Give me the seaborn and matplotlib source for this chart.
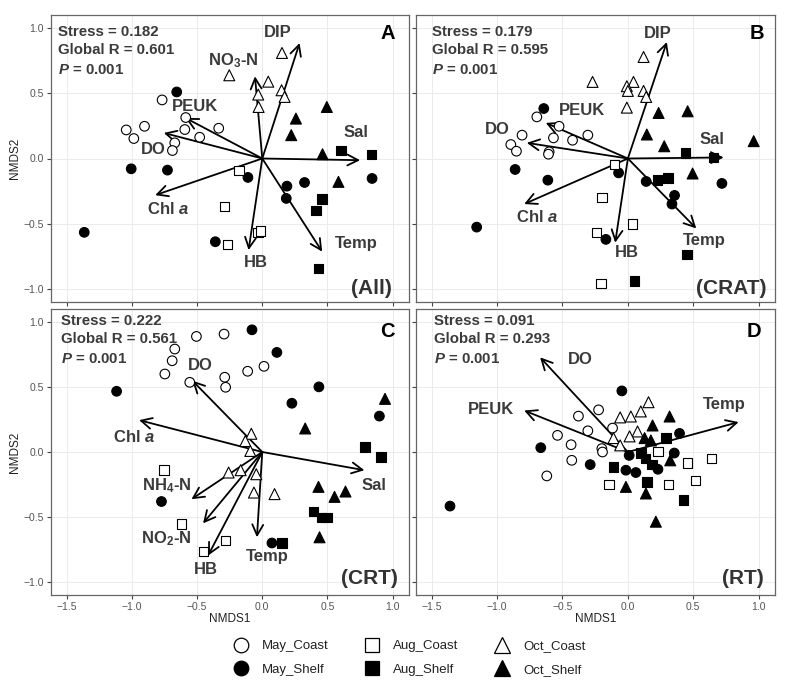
import matplotlib
matplotlib.use("Agg")
import matplotlib.pyplot as plt
import seaborn as sns
import pandas as pd
from matplotlib.lines import Line2D

# ---------------- data ----------------
groups = ["May_Coast", "May_Shelf", "Aug_Coast", "Aug_Shelf", "Oct_Coast", "Oct_Shelf"]

# Panel A (All)
A_x = [-0.768, -1.043, -0.985, -0.903, -0.587, -0.594, -0.480, -0.334, -0.671, -0.689,
       -0.656, -1.005, -0.727, -1.365, -0.110, 0.189, 0.324, 0.184, -0.360, 0.842,
       -0.179, -0.291, -0.268, -0.033, -0.015,
       0.605, 0.839, 0.459, 0.411, 0.429,
       0.151, -0.253, 0.046, -0.031, 0.148, 0.171, -0.028,
       0.495, 0.258, 0.222, 0.462, 0.584]
A_y = [0.449, 0.219, 0.153, 0.247, 0.314, 0.222, 0.163, 0.232, 0.120, 0.061,
       0.510, -0.079, -0.089, -0.566, -0.145, -0.212, -0.184, -0.306, -0.638, -0.153,
       -0.092, -0.367, -0.658, -0.566, -0.556,
       0.061, 0.031, -0.311, -0.398, -0.844,
       0.809, 0.638, 0.589, 0.490, 0.523, 0.472, 0.395,
       0.395, 0.306, 0.179, 0.033, -0.179]
A_g = (["May_Coast"] * 10 + ["May_Shelf"] * 10 + ["Aug_Coast"] * 5 +
       ["Aug_Shelf"] * 5 + ["Oct_Coast"] * 7 + ["Oct_Shelf"] * 5)

# Panel B (CRAT)
B_x = [-0.696, -0.526, -0.809, -0.895, -0.852, -0.569, -0.423, -0.306, -0.602, -0.607,
       -0.643, -0.862, -0.612, -1.156, -0.071, 0.140, 0.357, 0.337, -0.168, 0.719,
       -0.102, -0.199, -0.242, 0.036, -0.204,
       0.439, 0.227, 0.306, 0.452, 0.051, 0.656,
       0.120, -0.270, 0.043, -0.008, 0.000, 0.120, 0.140, -0.008,
       0.235, 0.457, 0.145, 0.278, 0.495, 0.962]
B_y = [0.319, 0.247, 0.179, 0.107, 0.056, 0.158, 0.140, 0.179, 0.051, 0.033,
       0.383, -0.084, -0.166, -0.526, -0.110, -0.176, -0.283, -0.349, -0.620, -0.191,
       -0.046, -0.298, -0.569, -0.503, -0.957,
       0.043, -0.166, -0.148, -0.735, -0.939, 0.008,
       0.778, 0.587, 0.587, 0.554, 0.518, 0.518, 0.472, 0.390,
       0.349, 0.362, 0.184, 0.094, -0.115, 0.133]
B_g = (["May_Coast"] * 10 + ["May_Shelf"] * 10 + ["Aug_Coast"] * 5 +
       ["Aug_Shelf"] * 6 + ["Oct_Coast"] * 8 + ["Oct_Shelf"] * 6)

# Panel C (CRT)
C_x = [-0.505, -0.293, -0.671, -0.691, -0.747, -0.556, -0.288, -0.281, -0.112, 0.013,
       -0.079, 0.112, -1.117, 0.434, 0.227, 0.898, -0.773, 0.074,
       -0.753, -0.620, -0.281, -0.449,
       0.788, 0.911, 0.393, 0.452, 0.495, 0.151,
       -0.084, -0.130, -0.092, -0.258, -0.166, -0.046, -0.064, 0.094,
       0.941, 0.329, 0.431, 0.554, 0.638, 0.439]
C_y = [0.889, 0.907, 0.792, 0.702, 0.600, 0.536, 0.575, 0.498, 0.621, 0.659,
       0.940, 0.766, 0.467, 0.501, 0.375, 0.276, -0.381, -0.700,
       -0.140, -0.554, -0.682, -0.764,
       0.038, -0.038, -0.457, -0.503, -0.503, -0.700,
       0.140, 0.084, 0.008, -0.158, -0.140, -0.171, -0.312, -0.324,
       0.409, 0.181, -0.268, -0.345, -0.304, -0.656]
C_g = (["May_Coast"] * 10 + ["May_Shelf"] * 8 + ["Aug_Coast"] * 4 +
       ["Aug_Shelf"] * 6 + ["Oct_Coast"] * 8 + ["Oct_Shelf"] * 6)

# Panel D (RT)
D_x = [-0.224, -0.378, -0.306, -0.538, -0.434, -0.429, -0.620, -0.117, -0.199, -0.194,
       -0.046, -1.360, -0.666, -0.288, 0.010, -0.015, 0.061, 0.230, 0.355, 0.395,
       0.230, 0.457, 0.638, 0.515, 0.311, -0.143,
       0.291, 0.099, 0.133, 0.184, -0.110, 0.145, 0.426,
       0.158, -0.059, 0.023, 0.099, 0.074, 0.013, -0.110, -0.059,
       0.319, 0.189, 0.128, 0.176, 0.324, -0.015, 0.138, 0.214]
D_y = [0.324, 0.276, 0.163, 0.128, 0.056, -0.064, -0.184, 0.184, 0.026, 0.000,
       0.470, -0.416, 0.033, -0.097, -0.026, -0.140, -0.158, -0.133, -0.008, 0.143,
       0.005, -0.084, -0.051, -0.217, -0.248, -0.248,
       0.107, -0.008, -0.051, -0.095, -0.115, -0.230, -0.370,
       0.383, 0.266, 0.273, 0.312, 0.158, 0.120, 0.107, 0.051,
       0.273, 0.204, 0.107, 0.089, -0.064, -0.268, -0.319, -0.536]
D_g = (["May_Coast"] * 10 + ["May_Shelf"] * 10 + ["Aug_Coast"] * 6 +
       ["Aug_Shelf"] * 7 + ["Oct_Coast"] * 8 + ["Oct_Shelf"] * 8)

# Environmental vectors
A_vec = ["DIP", "NO$_3$-N", "PEUK", "DO", "Chl $a$", "HB", "Temp", "Sal"]
A_vx = [0.286, -0.056, -0.589, -0.755, -0.821, -0.105, 0.459, 0.750]
A_vy = [0.885, 0.630, 0.311, 0.196, -0.281, -0.702, -0.714, -0.013]
A_lx = [0.120, -0.224, -0.513, -0.837, -0.722, -0.051, 0.719, 0.719]
A_ly = [0.969, 0.753, 0.395, 0.069, -0.390, -0.796, -0.651, 0.196]

B_vec = ["DIP", "PEUK", "DO", "Chl $a$", "HB", "Temp", "Sal"]
B_vx = [0.298, -0.628, -0.773, -0.793, -0.097, 0.523, 0.732]
B_vy = [0.893, 0.273, 0.120, -0.349, -0.645, -0.536, 0.008]
B_lx = [0.230, -0.352, -0.997, -0.691, -0.008, 0.584, 0.643]
B_ly = [0.957, 0.365, 0.222, -0.446, -0.719, -0.625, 0.145]

C_vec = ["DO", "Chl $a$", "Sal", "NH$_4$-N", "NO$_2$-N", "HB", "Temp"]
C_vx = [-0.536, -0.944, 0.783, -0.543, -0.454, -0.416, -0.041]
C_vy = [0.549, 0.245, -0.140, -0.363, -0.549, -0.797, -0.656]
C_lx = [-0.472, -0.982, 0.855, -0.735, -0.735, -0.429, 0.038]
C_ly = [0.664, 0.115, -0.261, -0.261, -0.669, -0.904, -0.802]

D_vec = ["DO", "PEUK", "Temp"]
D_vx = [-0.671, -0.793, 0.847]
D_vy = [0.728, 0.319, 0.230]
D_lx = [-0.360, -1.048, 0.737]
D_ly = [0.710, 0.327, 0.365]

A_stats = ["0.182", "0.601", "0.001"]
B_stats = ["0.179", "0.595", "0.001"]
C_stats = ["0.222", "0.561", "0.001"]
D_stats = ["0.091", "0.293", "0.001"]

x_ticks = [-1.5, -1.0, -0.5, 0.0, 0.5, 1.0]
y_ticks = [-1.0, -0.5, 0.0, 0.5, 1.0]

# ---------------- style ----------------
sns.set_style("white")
plt.rcParams["font.family"] = ["Liberation Sans", "DejaVu Sans"]
plt.rcParams["mathtext.fontset"] = "custom"
plt.rcParams["mathtext.rm"] = "Liberation Sans:bold"
plt.rcParams["mathtext.it"] = "Liberation Sans:italic:bold"
plt.rcParams["mathtext.bf"] = "Liberation Sans:bold"

fills = {"May_Coast": "white", "May_Shelf": "black", "Aug_Coast": "white",
         "Aug_Shelf": "black", "Oct_Coast": "white", "Oct_Shelf": "black"}
marks = {"May_Coast": "o", "May_Shelf": "o", "Aug_Coast": "s",
         "Aug_Shelf": "s", "Oct_Coast": "^", "Oct_Shelf": "^"}
sizes = {"May_Coast": 48, "May_Shelf": 48, "Aug_Coast": 46,
         "Aug_Shelf": 46, "Oct_Coast": 62, "Oct_Shelf": 62}

fig = plt.figure(figsize=(7.88, 6.94), dpi=100)
W, H = 788.0, 694.0
boxes = {
    "A": [51 / W, 1 - 302 / H, 358 / W, 287 / H],
    "B": [416 / W, 1 - 302 / H, 359 / W, 287 / H],
    "C": [51 / W, 1 - 595 / H, 358 / W, 286 / H],
    "D": [416 / W, 1 - 595 / H, 359 / W, 286 / H],
}

TXT = "#3b3b3b"


def panel(key, xs, ys, gs, vnames, vx, vy, lx, ly, stats, tag, sx, sy, lpos, tpos,
          xlab, ylab):
    ax = fig.add_axes(boxes[key])
    df = pd.DataFrame({"NMDS1": xs, "NMDS2": ys, "group": gs})
    ax.set_axisbelow(True)
    ax.grid(True, color="#EBEBEB", lw=0.7)
    for a, b, n in zip(vx, vy, vnames):
        ax.annotate("", xy=(a, b), xytext=(0, 0),
                    arrowprops=dict(arrowstyle="->,head_length=0.55,head_width=0.28",
                                    lw=1.3, color="black", shrinkA=0, shrinkB=0,
                                    mutation_scale=14), zorder=3)
    sns.scatterplot(data=df, x="NMDS1", y="NMDS2", hue="group", style="group",
                    size="group", palette=fills, markers=marks, sizes=sizes,
                    edgecolor="black", linewidth=0.8, legend=False, ax=ax, zorder=4)
    for a, b, n in zip(lx, ly, vnames):
        ax.text(a, b, n, ha="center", va="center", fontsize=12, fontweight="bold",
                color=TXT, zorder=5)
    ax.text(sx, sy[0], "Stress = " + stats[0], transform=ax.transAxes, fontsize=10.8,
            fontweight="bold", color=TXT, va="center", ha="left")
    ax.text(sx, sy[1], "Global R = " + stats[1], transform=ax.transAxes, fontsize=10.8,
            fontweight="bold", color=TXT, va="center", ha="left")
    ax.text(sx, sy[2], "$P$ = " + stats[2], transform=ax.transAxes, fontsize=10.8,
            fontweight="bold", color=TXT, va="center", ha="left")
    ax.text(lpos[0], lpos[1], key, transform=ax.transAxes, fontsize=14.5,
            fontweight="bold", color="black", ha="center", va="center")
    ax.text(tpos[0], tpos[1], tag, transform=ax.transAxes, fontsize=15,
            fontweight="bold", color="#333333", ha="right", va="center")
    ax.set_xlim(-1.62, 1.125)
    ax.set_ylim(-1.10, 1.10)
    ax.set_xticks(x_ticks)
    ax.set_yticks(y_ticks)
    ax.tick_params(axis="both", length=3, width=0.8, color="#444444",
                   labelsize=7.5, labelcolor="#555555", pad=2, direction="out",
                   bottom=True, left=True)
    if xlab:
        ax.set_xticklabels([f"{t:.1f}".replace("-", "\u2212") for t in x_ticks])
        ax.set_xlabel("NMDS1", fontsize=8.5, color="#222222", labelpad=1)
    else:
        ax.set_xticklabels([])
        ax.set_xlabel("")
    if ylab:
        ax.set_yticklabels([f"{t:.1f}".replace("-", "\u2212") for t in y_ticks])
        ax.set_ylabel("NMDS2", fontsize=8.5, color="#222222", labelpad=2)
    else:
        ax.set_yticklabels([])
        ax.set_ylabel("")
    for s in ax.spines.values():
        s.set_color("#666666")
        s.set_linewidth(0.9)
    return ax


panel("A", A_x, A_y, A_g, A_vec, A_vx, A_vy, A_lx, A_ly, A_stats, "(All)",
      0.020, (0.942, 0.878, 0.808), (0.940, 0.936), (0.953, 0.048), False, True)
panel("B", B_x, B_y, B_g, B_vec, B_vx, B_vy, B_lx, B_ly, B_stats, "(CRAT)",
      0.045, (0.942, 0.878, 0.808), (0.949, 0.936), (0.977, 0.048), False, False)
panel("C", C_x, C_y, C_g, C_vec, C_vx, C_vy, C_lx, C_ly, C_stats, "(CRT)",
      0.027, (0.958, 0.895, 0.825), (0.939, 0.921), (0.970, 0.058), True, True)
panel("D", D_x, D_y, D_g, D_vec, D_vx, D_vy, D_lx, D_ly, D_stats, "(RT)",
      0.051, (0.958, 0.895, 0.825), (0.942, 0.921), (0.969, 0.058), True, False)

# legend
leg_ms = {"o": 10.5, "s": 10.5, "^": 11.5}
handles = [Line2D([0], [0], linestyle="none", marker=marks[g], markersize=leg_ms[marks[g]],
                  markerfacecolor=fills[g], markeredgecolor="black", markeredgewidth=0.9)
           for g in groups]
fig.legend(handles, groups, ncol=3, loc="center", bbox_to_anchor=(410 / W, 1 - 658 / H),
           frameon=False, fontsize=9.5, handlelength=1.0, handletextpad=1.1,
           columnspacing=2.8, labelspacing=0.85, labelcolor="#222222")

fig.savefig("out.png", dpi=100)
